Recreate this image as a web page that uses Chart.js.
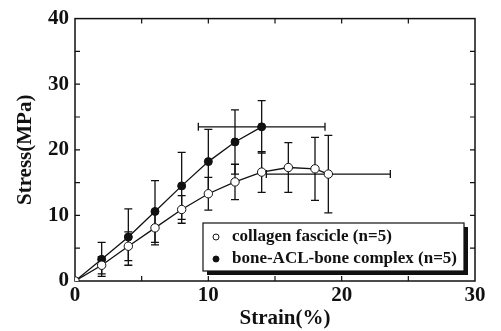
<!DOCTYPE html>
<html>
<head>
<meta charset="utf-8">
<script src="https://cdn.jsdelivr.net/npm/chart.js@4.4.0/dist/chart.umd.min.js"></script>
<style>
  html, body { margin: 0; padding: 0; background: #fff; }
  #wrap { width: 501px; height: 331px; }
</style>
</head>
<body>
<div id="wrap"><canvas id="stress-chart"></canvas></div>
<script>
// collagen fascicle (open circles)
const strainFascicle = [0, 2, 4, 6, 8, 10, 12, 14, 16, 18, 19]
const stressFascicle = [0, 2.4, 5.3, 8.1, 10.9, 13.3, 15.1, 16.6, 17.3, 17.1, 16.3]
const stressErrFascicle = [0, 1.3, 2.2, 2.6, 2.1, 2.5, 2.7, 3.1, 3.8, 4.8, 5.9]
const strainErrFascicle = [0, 0, 0, 0, 0, 0, 0, 0, 0, 0, 4.65]

// bone-ACL-bone complex (filled circles)
const strainComplex = [0, 2, 4, 6, 8, 10, 12, 14]
const stressComplex = [0, 3.3, 6.7, 10.6, 14.5, 18.2, 21.2, 23.5]
const stressErrComplex = [0, 2.6, 4.3, 4.7, 5.1, 4.9, 4.9, 4.0]
const strainErrComplex = [0, 0, 0, 0, 0, 0, 0, 4.75]

const legendLabels = ['collagen fascicle (n=5)', 'bone-ACL-bone complex (n=5)']
const xTitle = 'Strain(%)'
const yTitle = 'Stress(MPa)'

const INK = '#111'
const SERIF = '"Liberation Serif", "DejaVu Serif", serif'

function toPoints(xs, ys) {
  return xs.map((v, i) => ({ x: v, y: ys[i] }))
}

// vertical and horizontal error bars, drawn under the markers
const errorBars = {
  id: 'errorBars',
  beforeDatasetsDraw(chart) {
    const { ctx, scales: { x, y } } = chart
    const cap = 4
    ctx.save()
    ctx.strokeStyle = INK
    ctx.lineWidth = 1.3
    chart.data.datasets.forEach(ds => {
      ds.data.forEach((pt, i) => {
        const px = x.getPixelForValue(pt.x)
        const py = y.getPixelForValue(pt.y)
        const ye = ds.yErr[i]
        const xe = ds.xErr[i]
        ctx.beginPath()
        if (ye) {
          const top = y.getPixelForValue(pt.y + ye)
          const bot = y.getPixelForValue(pt.y - ye)
          ctx.moveTo(px, top); ctx.lineTo(px, bot)
          ctx.moveTo(px - cap, top); ctx.lineTo(px + cap, top)
          ctx.moveTo(px - cap, bot); ctx.lineTo(px + cap, bot)
        }
        if (xe) {
          const l = x.getPixelForValue(pt.x - xe)
          const r = x.getPixelForValue(pt.x + xe)
          ctx.moveTo(l, py); ctx.lineTo(r, py)
          ctx.moveTo(l, py - cap); ctx.lineTo(l, py + cap)
          ctx.moveTo(r, py - cap); ctx.lineTo(r, py + cap)
        }
        ctx.stroke()
      })
    })
    ctx.restore()
  }
}

// box frame with inward ticks every 5 units on all four sides
const frame = {
  id: 'frame',
  beforeDatasetsDraw(chart) {
    const { ctx, chartArea: a, scales: { x, y } } = chart
    const len = 5
    ctx.save()
    ctx.strokeStyle = INK
    ctx.lineWidth = 1.5
    ctx.strokeRect(a.left, a.top, a.right - a.left, a.bottom - a.top)
    ctx.lineWidth = 1.2
    ctx.beginPath()
    for (let v = 5; v < 30; v += 5) {
      const px = x.getPixelForValue(v)
      ctx.moveTo(px, a.bottom); ctx.lineTo(px, a.bottom - len)
      ctx.moveTo(px, a.top); ctx.lineTo(px, a.top + len)
    }
    for (let v = 5; v < 40; v += 5) {
      const py = y.getPixelForValue(v)
      ctx.moveTo(a.left, py); ctx.lineTo(a.left + len, py)
      ctx.moveTo(a.right, py); ctx.lineTo(a.right - len, py)
    }
    ctx.stroke()
    ctx.restore()
  }
}

// x axis title sits a little right of the plot centre in the original
const xAxisTitle = {
  id: 'xAxisTitle',
  afterDraw(chart) {
    const { ctx, chartArea: a } = chart
    ctx.save()
    ctx.font = 'bold 21px ' + SERIF
    ctx.fillStyle = INK
    ctx.textAlign = 'center'
    ctx.textBaseline = 'middle'
    ctx.fillText(xTitle, (a.left + a.right) / 2 + 10, 319)
    ctx.restore()
  }
}

// legend box with drop shadow inside the plot
const legendBox = {
  id: 'legendBox',
  afterDraw(chart) {
    const { ctx } = chart
    const bx = 203, by = 223, bw = 261, bh = 48
    ctx.save()
    ctx.fillStyle = INK
    ctx.fillRect(bx + 4, by + 4, bw, bh)
    ctx.fillStyle = '#fff'
    ctx.fillRect(bx, by, bw, bh)
    ctx.strokeStyle = INK
    ctx.lineWidth = 1.2
    ctx.strokeRect(bx, by, bw, bh)

    ctx.font = 'bold 17px ' + SERIF
    ctx.textBaseline = 'middle'
    const rows = [by + 14, by + 36]
    chart.data.datasets.forEach((ds, i) => {
      ctx.beginPath()
      ctx.arc(bx + 13, rows[i], 3, 0, Math.PI * 2)
      ctx.fillStyle = ds.pointBackgroundColor
      ctx.fill()
      ctx.lineWidth = 1
      ctx.strokeStyle = INK
      ctx.stroke()
      ctx.fillStyle = INK
      ctx.fillText(legendLabels[i], bx + 29, rows[i])
    })
    ctx.restore()
  }
}

new Chart(document.getElementById('stress-chart'), {
  type: 'scatter',
  data: {
    datasets: [
      {
        label: legendLabels[0],
        data: toPoints(strainFascicle, stressFascicle),
        yErr: stressErrFascicle,
        xErr: strainErrFascicle,
        showLine: true,
        borderColor: INK,
        borderWidth: 1.3,
        pointRadius: 4.2,
        pointBackgroundColor: '#fff',
        pointBorderColor: INK,
        pointBorderWidth: 1
      },
      {
        label: legendLabels[1],
        data: toPoints(strainComplex, stressComplex),
        yErr: stressErrComplex,
        xErr: strainErrComplex,
        showLine: true,
        borderColor: INK,
        borderWidth: 1.3,
        pointRadius: 4,
        pointBackgroundColor: INK,
        pointBorderColor: INK,
        pointBorderWidth: 1
      }
    ]
  },
  options: {
    responsive: true,
    maintainAspectRatio: false,
    animation: false,
    layout: {
      padding: { left: 0, top: 13, right: 26, bottom: 0 }
    },
    plugins: {
      legend: { display: false },
      tooltip: { enabled: false }
    },
    scales: {
      x: {
        min: 0,
        max: 30,
        afterFit: scale => { scale.height = 50 },
        ticks: {
          stepSize: 10,
          padding: 2,
          color: INK,
          font: { family: SERIF, size: 21, weight: 'bold' }
        },
        grid: { display: false, drawTicks: false },
        border: { display: false }
      },
      y: {
        min: 0,
        max: 40,
        afterFit: scale => { scale.width = 75 },
        ticks: {
          stepSize: 10,
          padding: 6,
          color: INK,
          font: { family: SERIF, size: 21, weight: 'bold' }
        },
        grid: { display: false, drawTicks: false },
        border: { display: false },
        title: {
          display: true,
          text: yTitle,
          color: INK,
          padding: { top: 13, bottom: 0 },
          font: { family: SERIF, size: 21, weight: 'bold' }
        }
      }
    }
  },
  plugins: [frame, errorBars, xAxisTitle, legendBox]
})
</script>
</body>
</html>
